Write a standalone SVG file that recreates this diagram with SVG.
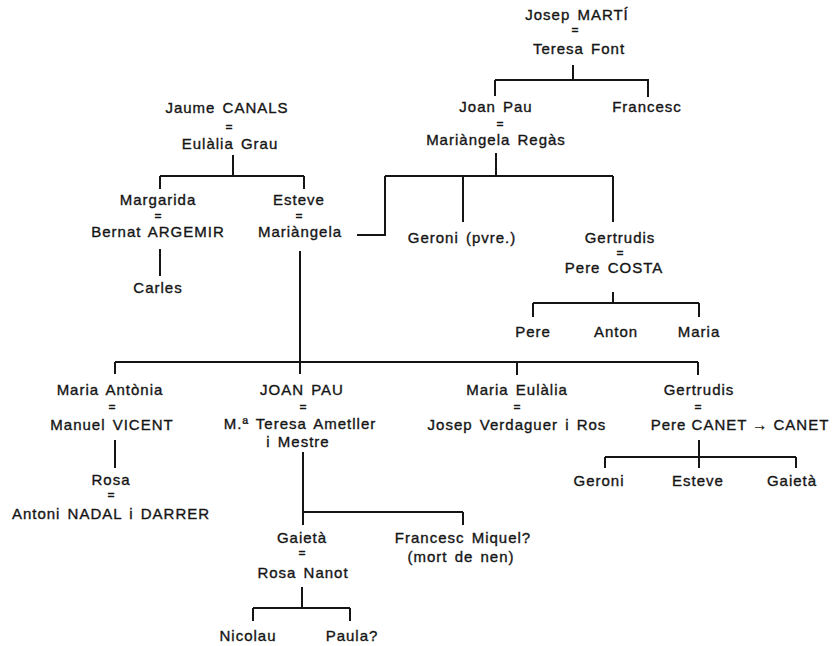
<svg xmlns="http://www.w3.org/2000/svg" width="836" height="646" viewBox="0 0 836 646">
<style>
text{font-family:"Liberation Sans",Arial,sans-serif;font-size:15px;letter-spacing:1px;word-spacing:2px;fill:#151515;stroke:#151515;stroke-width:0.35;text-anchor:middle}
text.eq{font-size:12px;letter-spacing:0}
.c{fill:none;stroke:#151515;stroke-width:2}
</style>
<rect width="836" height="646" fill="#fff"/>
<g id="connectors">
<path class="c" d="M573 65V80 M495 80H649 M495 80V96 M648 80V97
M496 153V176 M385 176H613 M385 176V235H357 M463 176V222 M613 176V222
M613 292V303 M533 303H699 M533 303V317 M699 303V317
M233 155V176 M160 176H304 M160 176V189 M304 176V189
M160 249V276
M300 251V374
M115 362H698 M115 362V374 M517 362V375 M698 362V375
M115 440V468
M699 440V468 M605 457H796 M605 457V468 M796 457V468
M303 452V525 M303 512H463 M463 512V525
M302 587V608 M253 608H350 M253 608V621 M350 608V621"/>
</g>
<g id="josep-marti"><text x="577" y="20">Josep MARTÍ</text><text class="eq" x="575" y="34">=</text><text x="579" y="54">Teresa Font</text></g>
<g id="joan-pau-marti"><text x="496" y="112">Joan Pau</text><text class="eq" x="500" y="128">=</text><text x="496" y="145">Mariàngela Regàs</text></g>
<g id="francesc-marti"><text x="647" y="112">Francesc</text></g>
<g id="jaume-canals"><text x="227" y="113">Jaume CANALS</text><text class="eq" x="229" y="131">=</text><text x="230" y="149">Eulàlia Grau</text></g>
<g id="margarida"><text x="158" y="205">Margarida</text><text class="eq" x="158" y="220">=</text><text x="158" y="237">Bernat ARGEMIR</text></g>
<g id="esteve-canals"><text x="299" y="205">Esteve</text><text class="eq" x="299" y="220">=</text><text x="300" y="237">Mariàngela</text></g>
<g id="carles"><text x="158" y="293">Carles</text></g>
<g id="geroni-pvre"><text x="462" y="243">Geroni (pvre.)</text></g>
<g id="gertrudis-costa"><text x="620" y="243">Gertrudis</text><text class="eq" x="620" y="257">=</text><text x="614" y="273">Pere COSTA</text></g>
<g id="pere-costa"><text x="533" y="337">Pere</text></g>
<g id="anton-costa"><text x="616" y="337">Anton</text></g>
<g id="maria-costa"><text x="699" y="337">Maria</text></g>
<g id="maria-antonia"><text x="110" y="395">Maria Antònia</text><text class="eq" x="112" y="411">=</text><text x="112" y="430">Manuel VICENT</text></g>
<g id="rosa-vicent"><text x="111" y="485">Rosa</text><text class="eq" x="111" y="499">=</text><text x="111" y="519">Antoni NADAL i DARRER</text></g>
<g id="joan-pau"><text x="302" y="395">JOAN PAU</text><text class="eq" x="303" y="411">=</text><text x="300" y="429">M.ª Teresa Ametller</text><text x="298" y="447">i Mestre</text></g>
<g id="maria-eulalia"><text x="517" y="395">Maria Eulàlia</text><text class="eq" x="517" y="411">=</text><text x="517" y="430">Josep Verdaguer i Ros</text></g>
<g id="gertrudis-canet"><text x="699" y="395">Gertrudis</text><text class="eq" x="698" y="411">=</text><text x="740" y="430" style="word-spacing:0">Pere CANET → CANET</text></g>
<g id="geroni-canet"><text x="599" y="486">Geroni</text></g>
<g id="esteve-canet"><text x="698" y="486">Esteve</text></g>
<g id="gaieta-canet"><text x="792" y="486">Gaietà</text></g>
<g id="gaieta"><text x="302" y="543">Gaietà</text><text class="eq" x="302" y="557">=</text><text x="303" y="578">Rosa Nanot</text></g>
<g id="francesc-miquel"><text x="463" y="543">Francesc Miquel?</text><text x="461" y="562">(mort de nen)</text></g>
<g id="nicolau"><text x="248" y="641">Nicolau</text></g>
<g id="paula"><text x="352" y="641">Paula?</text></g>
</svg>
